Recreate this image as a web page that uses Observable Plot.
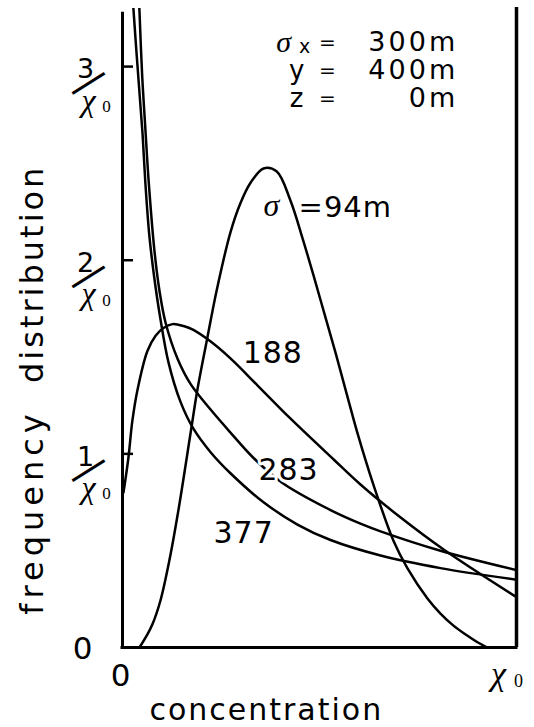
<!DOCTYPE html>
<html><head><meta charset="utf-8">
<script src="https://cdn.jsdelivr.net/npm/d3@7"></script>
<script src="https://cdn.jsdelivr.net/npm/@observablehq/plot@0.6"></script>
<style>
html,body{margin:0;padding:0;background:#fff;}
#chart svg{display:block;}
</style>
</head><body><div id="chart"></div>
<script>
// concentration in units of chi0, frequency in units of 1/chi0
const sigmaNames = ["94", "188", "283", "377"];
const conc94 = [0.043, 0.061, 0.076, 0.096, 0.119, 0.142, 0.173, 0.190, 0.216, 0.239, 0.274, 0.299, 0.325, 0.358, 0.391, 0.426, 0.457, 0.485, 0.513, 0.541, 0.569, 0.596, 0.637, 0.688, 0.723, 0.774, 0.807, 0.840, 0.871, 0.898, 0.926];
const freq94 = [0, 0.06, 0.12, 0.24, 0.45, 0.71, 1.11, 1.33, 1.606, 1.844, 2.144, 2.293, 2.40, 2.474, 2.459, 2.31, 2.113, 1.92, 1.72, 1.52, 1.31, 1.11, 0.84, 0.55, 0.41, 0.253, 0.175, 0.113, 0.067, 0.031, 0];
const conc188 = [0.0025, 0.015, 0.025, 0.038, 0.063, 0.084, 0.104, 0.127, 0.155, 0.180, 0.223, 0.274, 0.343, 0.426, 0.536, 0.604, 0.706, 0.815, 1.0];
const freq188 = [0.80, 0.98, 1.17, 1.33, 1.53, 1.61, 1.65, 1.67, 1.66, 1.64, 1.581, 1.493, 1.353, 1.183, 0.971, 0.842, 0.671, 0.506, 0.26];
const conc283 = [0.040, 0.043, 0.050, 0.058, 0.066, 0.081, 0.094, 0.109, 0.140, 0.173, 0.223, 0.274, 0.332, 0.406, 0.528, 0.604, 0.655, 0.807, 1.0];
const freq283 = [3.45, 3.29, 2.95, 2.68, 2.42, 2.05, 1.84, 1.68, 1.49, 1.36, 1.23, 1.11, 0.98, 0.85, 0.71, 0.64, 0.60, 0.50, 0.40];
const conc377 = [0.024, 0.028, 0.040, 0.051, 0.058, 0.068, 0.080, 0.096, 0.117, 0.147, 0.180, 0.223, 0.274, 0.358, 0.444, 0.528, 0.655, 0.807, 1.0];
const freq377 = [3.45, 3.29, 2.95, 2.65, 2.40, 2.13, 1.92, 1.70, 1.47, 1.27, 1.13, 1.01, 0.90, 0.75, 0.635, 0.555, 0.475, 0.41, 0.35];

const yTicks = [1, 2, 3];
const yTickNumerators = ["1", "2", "3"];
const paramNames = ["y", "z"];
const paramValues = ["300m", "400m", "0m"];
const curveLabels = ["188", "283", "377"];

const concs = [conc94, conc188, conc283, conc377];
const freqs = [freq94, freq188, freq283, freq377];
const curves = sigmaNames.flatMap((s, i) => concs[i].map((c, j) => ({sigma: s, c, f: freqs[i][j]})));

const SANS = "DejaVu Sans";
const SERIF = "Liberation Serif";
const rowStep = 0.1446;

const svg = Plot.plot({
  width: 534, height: 727,
  marginLeft: 122, marginRight: 18, marginTop: 8, marginBottom: 80,
  x: {domain: [0, 1], axis: null},
  y: {domain: [0, 3.3], axis: null},
  marks: [
    Plot.line(curves, {x: "c", y: "f", z: "sigma", stroke: "black", strokeWidth: 2.5, curve: "catmull-rom", clip: true}),
    // frame
    Plot.ruleX([0], {y1: 0, y2: 3.28, stroke: "black", strokeWidth: 3}),
    Plot.ruleX([1], {y1: 0, y2: 3.305, stroke: "black", strokeWidth: 3.5}),
    Plot.ruleY([0], {x1: 0, x2: 1, stroke: "black", strokeWidth: 3, strokeLinecap: "square"}),
    Plot.ruleY(yTicks, {x1: 0, x2: 0.028, stroke: "black", strokeWidth: 2.5}),
    // y tick labels n / chi0
    Plot.text(yTicks, {x: 0, y: d => d, text: (d, i) => yTickNumerators[i], dx: -37, dy: 3, fontSize: 27, fontFamily: SANS, fill: "black"}),
    Plot.text(yTicks, {x: 0, y: d => d, text: () => "—", dx: -35, dy: 15, rotate: -32, fontSize: 42, fontFamily: SANS, fill: "black"}),
    Plot.text(yTicks, {x: 0, y: d => d, text: () => "χ", dx: -34, dy: 34, fontSize: 32, fontFamily: SERIF, fontStyle: "italic", fill: "black"}),
    Plot.text(yTicks, {x: 0, y: d => d, text: () => "0", dx: -16, dy: 40, fontSize: 17, fontFamily: SERIF, fill: "black"}),
    // zero labels
    Plot.text(["0"], {x: 0, y: 0, dx: -40, dy: 2, fontSize: 31, fontFamily: SANS, fill: "black"}),
    Plot.text(["0"], {x: 0, y: 0, dx: -2, dy: 29, fontSize: 31, fontFamily: SANS, fill: "black"}),
    Plot.text(["χ"], {x: 1, y: 0, dx: -18, dy: 27, fontSize: 34, fontFamily: SERIF, fontStyle: "italic", fill: "black"}),
    Plot.text(["0"], {x: 1, y: 0, dx: 2, dy: 34, fontSize: 18, fontFamily: SERIF, fill: "black"}),
    // axis titles
    Plot.text(["concentration"], {x: 0.365, y: 0, dy: 63, fontSize: 30, fontFamily: SANS, fill: "black"}),
    Plot.text(["frequency"], {x: 0, y: 0.70, dx: -90, rotate: -90, fontSize: 32, fontFamily: SANS, fill: "black"}),
    Plot.text(["distribution"], {x: 0, y: 1.93, dx: -90, rotate: -90, fontSize: 32, fontFamily: SANS, fill: "black"}),
    // parameter block
    Plot.text(["σ"], {x: 0.409, y: 3.125, fontSize: 30, fontFamily: SERIF, fontStyle: "italic", fill: "black"}),
    Plot.text(["x"], {x: 0.462, y: 3.10, fontSize: 19, fontFamily: SANS, fill: "black"}),
    Plot.text(paramNames, {x: 0.442, y: (d, i) => 3.125 - (i + 1) * rowStep, fontSize: 26, fontFamily: SANS, fill: "black"}),
    Plot.text(paramValues, {x: 0.52, y: (d, i) => 3.125 - i * rowStep, text: () => "=", fontSize: 20, fontFamily: SANS, fill: "black"}),
    Plot.text(paramValues, {x: 0.852, y: (d, i) => 3.125 - i * rowStep, textAnchor: "end", fontSize: 27, fontFamily: SANS, fill: "black"}),
    // curve labels
    Plot.text(["σ"], {x: 0.378, y: 2.283, fontSize: 32, fontFamily: SERIF, fontStyle: "italic", fill: "black"}),
    Plot.text(["=94m"], {x: 0.447, y: 2.27, textAnchor: "start", fontSize: 29, fontFamily: SANS, fill: "black"}),
    Plot.text(curveLabels, {x: (d, i) => [0.305, 0.345, 0.231][i], y: (d, i) => [1.519, 0.914, 0.589][i], textAnchor: "start", fontSize: 30, fontFamily: SANS, fill: "black", stroke: "white", strokeWidth: 6})
  ]
});
const spacing = {"concentration": 2, "frequency": 5, "distribution": 3, "300m": 3, "400m": 3, "0m": 3, "=94m": 1, "188": 1, "283": 1, "377": 1};
d3.select(svg).selectAll("text").each(function() {
  const s = spacing[this.textContent];
  if (s) this.setAttribute("letter-spacing", s + "px");
});
document.getElementById("chart").appendChild(svg);
</script>
</body></html>
